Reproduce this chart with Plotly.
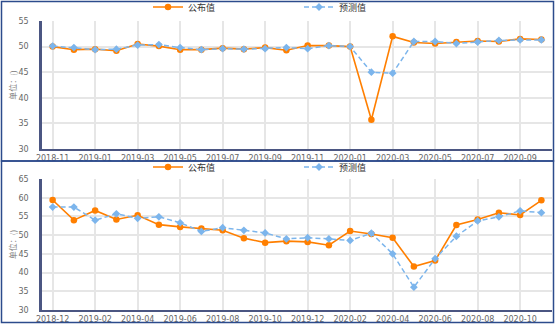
import plotly.graph_objects as go

# Monthly series, panel 1 (2018-11 .. 2020-10)
months_top = ["2018-11", "2018-12", "2019-01", "2019-02", "2019-03", "2019-04",
              "2019-05", "2019-06", "2019-07", "2019-08", "2019-09", "2019-10",
              "2019-11", "2019-12", "2020-01", "2020-02", "2020-03", "2020-04",
              "2020-05", "2020-06", "2020-07", "2020-08", "2020-09", "2020-10"]
published_top = [50.0, 49.4, 49.5, 49.2, 50.5, 50.1, 49.4, 49.4, 49.7, 49.5, 49.8, 49.3,
                 50.2, 50.2, 50.0, 35.7, 52.0, 50.8, 50.6, 50.9, 51.1, 51.0, 51.5, 51.4]
forecast_top = [50.1, 49.8, 49.4, 49.5, 50.3, 50.4, 49.8, 49.4, 49.6, 49.5, 49.6, 49.8,
                49.6, 50.2, 50.0, 45.0, 44.8, 51.0, 51.0, 50.6, 50.9, 51.2, 51.3, 51.3]

# Monthly series, panel 2 (2018-12 .. 2020-11)
months_bot = ["2018-12", "2019-01", "2019-02", "2019-03", "2019-04", "2019-05",
              "2019-06", "2019-07", "2019-08", "2019-09", "2019-10", "2019-11",
              "2019-12", "2020-01", "2020-02", "2020-03", "2020-04", "2020-05",
              "2020-06", "2020-07", "2020-08", "2020-09", "2020-10", "2020-11"]
published_bot = [59.4, 54.0, 56.6, 54.2, 55.3, 52.8, 52.2, 51.8, 51.3, 49.2, 48.0, 48.4,
                 48.2, 47.3, 51.1, 50.3, 49.3, 41.6, 43.2, 52.7, 54.2, 56.0, 55.4, 59.3]
forecast_bot = [57.5, 57.5, 54.0, 55.7, 54.5, 54.9, 53.3, 51.0, 52.0, 51.3, 50.6, 49.0,
                49.3, 49.0, 48.6, 50.5, 45.0, 36.1, 43.7, 49.7, 53.8, 54.9, 56.5, 56.0]

y_ticks_top = [30, 35, 40, 45, 50, 55]
y_ticks_bot = [30, 35, 40, 45, 50, 55, 60, 65]

ORANGE = "#ff7f00"
BLUE = "#7cb5ec"
FRAME = "#2c4b8c"
AXIS = "#4b5682"
GRID = "#e6e6e6"
TICK_FONT = dict(family="DejaVu Sans", size=8, color="#666666")

W, H = 555, 324


def px_x(p):
    return p / W


def px_y(p):
    return 1 - p / H


fig = go.Figure()

panels = [
    dict(months=months_top, pub=published_top, fc=forecast_top, ticks=y_ticks_top,
         yrange=[30, 55], top=21, bottom=149, xa="x", ya="y", legend="legend",
         leg_y=7),
    dict(months=months_bot, pub=published_bot, fc=forecast_bot, ticks=y_ticks_bot,
         yrange=[30, 65], top=179, bottom=310, xa="x2", ya="y2", legend="legend2",
         leg_y=167),
]

for i, p in enumerate(panels):
    fig.add_trace(go.Scatter(
        x=p["months"], y=p["pub"], name="公布值", mode="lines+markers",
        line=dict(color=ORANGE, width=1.6),
        marker=dict(color=ORANGE, size=6.5, symbol="circle"),
        xaxis=p["xa"], yaxis=p["ya"], legend=p["legend"]))
    fig.add_trace(go.Scatter(
        x=p["months"], y=p["fc"], name="预测值", mode="lines+markers",
        line=dict(color=BLUE, width=1.5, dash="5px,3px"),
        marker=dict(color=BLUE, size=6, symbol="diamond"),
        xaxis=p["xa"], yaxis=p["ya"], legend=p["legend"]))

x_domain = [px_x(42), px_x(552)]

layout = dict(
    width=W, height=H,
    margin=dict(l=0, r=0, t=0, b=0, autoexpand=False),
    paper_bgcolor="white", plot_bgcolor="white",
    showlegend=True,
)

for i, p in enumerate(panels):
    suffix = "" if i == 0 else "2"
    layout["xaxis" + suffix] = dict(
        domain=x_domain, anchor="y" + suffix, type="category",
        categoryorder="array", categoryarray=p["months"],
        range=[-0.5, len(p["months"]) - 0.5],
        tickvals=p["months"][::2], ticktext=p["months"][::2],
        showgrid=True, gridcolor=GRID, gridwidth=1.5,
        showline=True, linecolor=AXIS, linewidth=2,
        ticks="", tickfont=TICK_FONT, zeroline=False, fixedrange=True,
    )
    layout["yaxis" + suffix] = dict(
        domain=[px_y(p["bottom"]), px_y(p["top"])], anchor="x" + suffix,
        range=p["yrange"], tickvals=p["ticks"],
        showgrid=True, gridcolor=GRID, gridwidth=1.5,
        showline=True, linecolor=AXIS, linewidth=2.5,
        ticks="outside", ticklen=9, tickcolor="rgba(0,0,0,0)",
        tickfont=TICK_FONT, zeroline=False, fixedrange=True,
        title=dict(text="单位：()", font=dict(family="Noto Sans CJK SC", size=8,
                                            color="#777777"), standoff=0),
    )
    layout[p["legend"]] = dict(
        orientation="h", x=px_x(148), xanchor="left",
        y=px_y(p["leg_y"]), yanchor="middle",
        entrywidth=106, entrywidthmode="pixels", itemwidth=30,
        font=dict(family="Noto Sans CJK SC", size=9, color="#333333"),
        bgcolor="rgba(0,0,0,0)", borderwidth=0, tracegroupgap=0,
    )

# Panel frames
layout["shapes"] = [
    dict(type="rect", xref="paper", yref="paper",
         x0=px_x(1.5), x1=px_x(553.5), y0=px_y(161), y1=px_y(1.5),
         line=dict(color=FRAME, width=1.5), layer="above"),
    dict(type="rect", xref="paper", yref="paper",
         x0=px_x(1.5), x1=px_x(553.5), y0=px_y(322.5), y1=px_y(161),
         line=dict(color=FRAME, width=1.5), layer="above"),
]

fig.update_layout(**layout)
fig.write_html("out.html")
